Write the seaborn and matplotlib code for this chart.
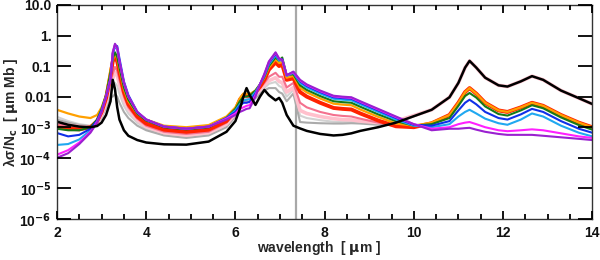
import numpy as np
import pandas as pd
import seaborn as sns
import matplotlib
matplotlib.use("Agg")
import matplotlib.pyplot as plt
from matplotlib.ticker import MultipleLocator, NullLocator


WAVELENGTH = [
    2.0, 2.25, 2.5, 2.75, 2.9, 3.0, 3.1, 3.2, 3.25, 3.3,
    3.35, 3.4, 3.5, 3.6, 3.8, 4.0, 4.4, 4.9, 5.4, 5.8,
    6.0, 6.1, 6.18, 6.25, 6.32, 6.45, 6.55, 6.65, 6.75, 6.9,
    6.98, 7.05, 7.15, 7.3, 7.45, 7.6, 7.9, 8.2, 8.4, 8.6,
    8.8, 9.2, 9.6, 10.0, 10.4, 10.8, 11.0, 11.15, 11.25, 11.4,
    11.6, 11.9, 12.1, 12.4, 12.65, 12.9, 13.3, 13.7, 14.0,
]

# log10 of lambda*sigma/Nc
LOG_PURPLE = [
    -4.0, -3.85, -3.55, -3.18, -2.85, -2.5, -2.0, -1.45, -0.55, -0.27,
    -0.4, -0.85, -1.55, -2.0, -2.5, -2.75, -2.98, -3.05, -2.98, -2.75,
    -2.6, -2.5, -2.45, -2.4, -2.38, -2.0, -1.6, -1.25, -0.85, -0.55,
    -0.75, -0.8, -1.3, -1.18, -1.45, -1.6, -1.8, -1.97, -2.0, -2.02,
    -2.15, -2.4, -2.65, -2.9, -3.1, -3.05, -3.05, -3.03, -3.02, -3.08,
    -3.15, -3.22, -3.25, -3.25, -3.25, -3.28, -3.33, -3.38, -3.42,
]
LOG_MAGENTA = [
    -3.9, -3.75, -3.5, -3.15, -2.82, -2.5, -2.0, -1.42, -0.55, -0.3,
    -0.42, -0.85, -1.55, -2.0, -2.5, -2.75, -2.98, -3.05, -2.98, -2.72,
    -2.55, -2.4, -2.35, -2.3, -2.28, -1.95, -1.6, -1.27, -0.87, -0.57,
    -0.76, -0.8, -1.3, -1.2, -1.47, -1.62, -1.82, -1.99, -2.02, -2.04,
    -2.17, -2.42, -2.67, -2.9, -3.05, -3.0, -2.9, -2.85, -2.83, -2.9,
    -3.0, -3.1, -3.13, -3.1, -3.07, -3.1, -3.2, -3.3, -3.35,
]
LOG_BLUE = [
    -3.19, -3.3, -3.25, -3.05, -2.78, -2.45, -2.0, -1.4, -0.6, -0.32,
    -0.35, -0.75, -1.5, -1.95, -2.5, -2.75, -2.98, -3.05, -2.98, -2.7,
    -2.5, -2.3, -2.2, -2.2, -2.17, -1.9, -1.6, -1.3, -0.9, -0.6,
    -0.78, -0.78, -1.3, -1.2, -1.5, -1.65, -1.85, -2.02, -2.05, -2.07,
    -2.2, -2.45, -2.7, -2.92, -2.95, -2.8, -2.45, -2.2, -2.1, -2.25,
    -2.5, -2.7, -2.75, -2.58, -2.4, -2.5, -2.8, -3.05, -3.18,
]
LOG_CYAN = [
    -3.58, -3.55, -3.4, -3.1, -2.8, -2.45, -2.0, -1.4, -0.6, -0.37,
    -0.45, -0.85, -1.55, -2.0, -2.52, -2.75, -2.98, -3.05, -2.98, -2.7,
    -2.45, -2.25, -2.12, -2.1, -2.08, -1.85, -1.6, -1.32, -0.95, -0.65,
    -0.82, -0.8, -1.32, -1.22, -1.55, -1.7, -1.9, -2.07, -2.1, -2.12,
    -2.25, -2.5, -2.75, -2.95, -3.0, -2.9, -2.65, -2.5, -2.43, -2.55,
    -2.72, -2.87, -2.92, -2.75, -2.55, -2.65, -2.95, -3.18, -3.3,
]
LOG_GREEN = [
    -3.05, -3.1, -3.1, -3.0, -2.75, -2.4, -1.95, -1.2, -0.75, -0.55,
    -0.7, -1.05, -1.7, -2.1, -2.55, -2.78, -3.0, -3.07, -3.0, -2.7,
    -2.4, -2.15, -2.0, -2.0, -1.97, -1.8, -1.6, -1.35, -1.0, -0.72,
    -0.82, -0.72, -1.3, -1.27, -1.63, -1.78, -1.98, -2.15, -2.18, -2.2,
    -2.33, -2.58, -2.8, -2.95, -2.9, -2.7, -2.3, -1.98, -1.88, -2.03,
    -2.32, -2.57, -2.62, -2.45, -2.28, -2.38, -2.68, -2.93, -3.08,
]
LOG_ORANGE = [
    -2.43, -2.55, -2.65, -2.7, -2.6, -2.35, -1.95, -1.1, -0.8, -0.6,
    -0.75, -1.1, -1.75, -2.15, -2.55, -2.75, -2.95, -3.0, -2.93, -2.65,
    -2.35, -2.05, -1.9, -1.9, -1.92, -1.8, -1.6, -1.38, -1.05, -0.78,
    -0.9, -0.85, -1.38, -1.32, -1.71, -1.86, -2.06, -2.23, -2.26, -2.28,
    -2.42, -2.66, -2.88, -2.95, -2.85, -2.6, -2.2, -1.85, -1.72, -1.9,
    -2.2, -2.45, -2.5, -2.35, -2.2, -2.3, -2.6, -2.85, -3.0,
]
LOG_RED = [
    -3.0, -3.05, -3.07, -3.0, -2.8, -2.5, -2.05, -1.3, -0.85, -0.67,
    -0.85, -1.2, -1.85, -2.25, -2.65, -2.88, -3.08, -3.15, -3.08, -2.8,
    -2.45, -2.1, -1.95, -1.95, -1.97, -1.85, -1.68, -1.45, -1.12, -0.88,
    -1.0, -0.95, -1.45, -1.4, -1.85, -2.0, -2.2, -2.37, -2.4, -2.42,
    -2.55, -2.78, -2.97, -3.0, -2.87, -2.6, -2.2, -1.85, -1.72, -1.9,
    -2.2, -2.45, -2.5, -2.35, -2.2, -2.3, -2.6, -2.85, -3.0,
]
LOG_PINK = [
    -2.9, -2.95, -3.0, -3.0, -2.85, -2.55, -2.1, -1.5, -1.25, -1.03,
    -1.15, -1.45, -2.0, -2.35, -2.72, -2.95, -3.15, -3.22, -3.15, -2.85,
    -2.5, -2.15, -2.0, -2.0, -2.02, -1.9, -1.72, -1.55, -1.35, -1.22,
    -1.35, -1.35, -1.7, -1.55, -2.2, -2.35, -2.5, -2.6, -2.63, -2.65,
    -2.72, -2.85, -2.97, -3.0, -2.9, -2.62, -2.22, -1.87, -1.74, -1.92,
    -2.22, -2.47, -2.52, -2.37, -2.22, -2.32, -2.62, -2.87, -3.02,
]
LOG_LIGHTPINK = [
    -2.88, -2.93, -2.98, -3.0, -2.87, -2.6, -2.2, -1.6, -1.4, -1.2,
    -1.3, -1.6, -2.1, -2.4, -2.76, -2.98, -3.18, -3.26, -3.18, -2.9,
    -2.55, -2.2, -2.05, -2.05, -2.07, -1.95, -1.78, -1.62, -1.48, -1.38,
    -1.5, -1.55, -1.85, -1.7, -2.45, -2.55, -2.65, -2.72, -2.75, -2.76,
    -2.8, -2.85, -2.8, -2.62, -2.43, -2.02, -1.55, -1.05, -0.83, -1.05,
    -1.38, -1.63, -1.67, -1.5, -1.33, -1.45, -1.8, -2.05, -2.24,
]
LOG_LIGHTGRAY = [
    -2.66, -2.8, -2.9, -2.95, -2.85, -2.6, -2.2, -1.8, -1.75, -1.55,
    -1.65, -1.9, -2.3, -2.55, -2.85, -3.05, -3.22, -3.3, -3.22, -2.95,
    -2.6, -2.25, -2.1, -2.1, -2.12, -2.0, -1.85, -1.72, -1.58, -1.52,
    -1.65, -1.7, -2.0, -1.78, -2.62, -2.7, -2.77, -2.82, -2.83, -2.83,
    -2.85, -2.9, -2.85, -2.63, -2.43, -2.02, -1.55, -1.05, -0.83, -1.05,
    -1.38, -1.63, -1.67, -1.5, -1.33, -1.45, -1.8, -2.05, -2.24,
]
LOG_GRAY = [
    -2.75, -2.85, -2.93, -2.97, -2.9, -2.7, -2.35, -2.0, -2.0, -1.92,
    -2.0, -2.2, -2.5, -2.7, -2.95, -3.1, -3.27, -3.35, -3.27, -3.0,
    -2.65, -2.3, -2.15, -2.15, -2.17, -2.05, -1.9, -1.8, -1.72, -1.72,
    -1.85, -1.9, -2.15, -1.9, -2.83, -2.85, -2.87, -2.88, -2.88, -2.87,
    -2.88, -2.92, -2.87, -2.64, -2.43, -2.02, -1.55, -1.05, -0.83, -1.05,
    -1.38, -1.63, -1.67, -1.5, -1.33, -1.45, -1.8, -2.05, -2.24,
]
LOG_BLACK = [
    -2.82, -2.92, -2.98, -3.0, -2.96, -2.85, -2.6, -2.15, -1.45, -1.75,
    -2.35, -2.75, -3.1, -3.28, -3.42, -3.5, -3.56, -3.57, -3.47, -3.15,
    -2.8, -2.4, -2.0, -1.72, -1.95, -2.27, -2.0, -1.78, -1.95, -2.12,
    -2.04, -2.2, -2.6, -2.95, -3.04, -3.12, -3.22, -3.27, -3.25, -3.2,
    -3.12, -3.0, -2.85, -2.64, -2.43, -2.02, -1.55, -1.05, -0.83, -1.05,
    -1.38, -1.63, -1.67, -1.5, -1.33, -1.45, -1.8, -2.05, -2.24,
]

Y_TICKS = [10.0, 1.0, 0.1, 0.01, 1e-3, 1e-4, 1e-5, 1e-6]
Y_TICK_LABELS = ["10.0", "1.", "0.1", "0.01",
                 "10$^{-3}$", "10$^{-4}$", "10$^{-5}$", "10$^{-6}$"]
X_TICKS = [2, 4, 6, 8, 10, 12, 14]
MARKER_LINE = 7.35

# drawing order and style (bottom first)
CURVES = {
    "lightgray": {"data": LOG_LIGHTGRAY, "color": "#d2d2d2", "lw": 1.5},
    "gray": {"data": LOG_GRAY, "color": "#ababab", "lw": 1.5},
    "lightpink": {"data": LOG_LIGHTPINK, "color": "#ffc0cc", "lw": 2.6},
    "pink": {"data": LOG_PINK, "color": "#f4708e", "lw": 1.5},
    "red": {"data": LOG_RED, "color": "#ff2200", "lw": 2.8},
    "orange": {"data": LOG_ORANGE, "color": "#ffa000", "lw": 1.6},
    "green": {"data": LOG_GREEN, "color": "#167a16", "lw": 1.5},
    "cyan": {"data": LOG_CYAN, "color": "#20a8f0", "lw": 1.5},
    "blue": {"data": LOG_BLUE, "color": "#1030e8", "lw": 1.5},
    "magenta": {"data": LOG_MAGENTA, "color": "#ff20ff", "lw": 1.5},
    "purple": {"data": LOG_PURPLE, "color": "#9a20d0", "lw": 1.5},
    "black": {"data": LOG_BLACK, "color": "black", "lw": 1.8},
}


def build_frame() -> pd.DataFrame:
    parts = []
    for name, meta in CURVES.items():
        assert len(meta["data"]) == len(WAVELENGTH), name
        parts.append(pd.DataFrame({
            "wavelength": WAVELENGTH,
            "value": np.power(10.0, meta["data"]),
            "curve": name,
        }))
    return pd.concat(parts, ignore_index=True)


def main() -> None:
    sns.set_theme(style="ticks")
    plt.rcParams["font.family"] = ["Liberation Sans", "DejaVu Sans"]
    plt.rcParams["font.weight"] = "bold"
    plt.rcParams["mathtext.default"] = "bf"

    df = build_frame()

    fig = plt.figure(figsize=(6.0, 2.6), dpi=100)
    ax = fig.add_axes([0.095, 0.158, 0.892, 0.823])

    for name, meta in CURVES.items():
        sns.lineplot(
            data=df[df["curve"] == name],
            x="wavelength",
            y="value",
            color=meta["color"],
            linewidth=meta["lw"],
            estimator=None,
            sort=False,
            ax=ax,
        )

    ax.axvline(MARKER_LINE, color="#a8a8a8", linewidth=1.6, zorder=1.5)

    ax.set_yscale("log")
    ax.set_xlim(2, 14)
    ax.set_ylim(1e-6, 10)
    ax.set_xticks(X_TICKS)
    ax.set_xticklabels([str(t) for t in X_TICKS], fontweight="bold")
    ax.xaxis.set_minor_locator(MultipleLocator(0.5))
    ax.set_yticks(Y_TICKS)
    ax.set_yticklabels(Y_TICK_LABELS, fontweight="bold")
    ax.yaxis.set_minor_locator(NullLocator())

    for spine in ax.spines.values():
        spine.set_visible(True)
        spine.set_color("#333333")
        spine.set_linewidth(1.0)

    # ticks above the curves, pointing inward on all four sides
    ax.set_axisbelow(False)
    ax.tick_params(axis="both", which="both", direction="in",
                   bottom=True, left=True, top=True, right=True,
                   color="black", width=1.3,
                   labelsize=10, labelcolor="#111111")
    ax.tick_params(axis="x", which="major", length=6, pad=5)
    ax.tick_params(axis="x", which="minor", length=3.5)
    ax.tick_params(axis="y", which="major", length=10, pad=4)
    ticks = (ax.xaxis.get_major_ticks() + ax.xaxis.get_minor_ticks()
             + ax.yaxis.get_major_ticks())
    for tick in ticks:
        for line in (tick.tick1line, tick.tick2line):
            line.set_visible(True)
            line.set_clip_on(False)
            line.set_zorder(5)

    ax.set_xlabel("wavelength  [ $\\mu$m ]", fontsize=10, fontweight="bold")
    ax.xaxis.set_label_coords(0.49, -0.095)
    ax.set_ylabel("λσ/N$_c$  [ $\\mu$m Mb ]", fontsize=10, fontweight="bold")
    ax.yaxis.set_label_coords(-0.07, 0.5)

    fig.savefig("out.png", dpi=100)
    plt.close(fig)


if __name__ == "__main__":
    main()
